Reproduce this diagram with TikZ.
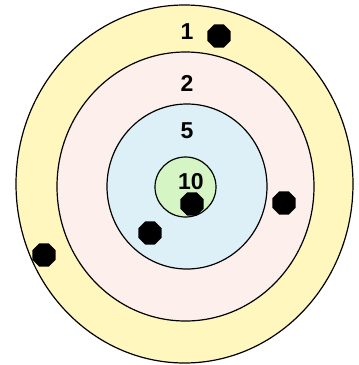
\documentclass[tikz,border=0pt]{standalone}
\usepackage{fontspec}
\setmainfont{Liberation Sans}
\usetikzlibrary{shapes.geometric}
\definecolor{ringone}{RGB}{255,247,190}
\definecolor{ringtwo}{RGB}{253,239,235}
\definecolor{ringfive}{RGB}{221,239,247}
\definecolor{ringten}{RGB}{214,245,196}
\tikzset{
	ring/.style={draw=black, line width=1.2pt},
	score/.style={font=\bfseries\fontsize{23}{23}\selectfont},
	hole/.style={regular polygon, regular polygon sides=8, fill=black, inner sep=0pt, minimum size=25pt}
}
\begin{document}
\begin{tikzpicture}[x=1pt, y=-1pt]
		\useasboundingbox (0,0) rectangle (359,365);
		\fill[white] (0,0) rectangle (359,365);
		
		\draw[ring, fill=ringone] (184.5,184) ellipse (168.5 and 179);
		\draw[ring, fill=ringtwo] (185.5,186.5) ellipse (128.5 and 134.5);
		\draw[ring, fill=ringfive] (187,186.5) ellipse (80 and 82.5);
		\draw[ring, fill=ringten] (185.5,187) ellipse (30.5 and 30);
		
		\node[score] (s1) at (187,32) {1};
		\node[score] (s2) at (187,83) {2};
		\node[score] (s5) at (187,131) {5};
		\node[score] (s10) at (191,182) {10};
		
		\node[hole] (h1) at (219,36) {};
		\node[hole] (h2) at (284,203) {};
		\node[hole] (h3) at (44,255) {};
		\node[hole] (h4) at (150,233) {};
		\node[hole] (h5) at (192,204) {};
	\end{tikzpicture}
\end{document}
